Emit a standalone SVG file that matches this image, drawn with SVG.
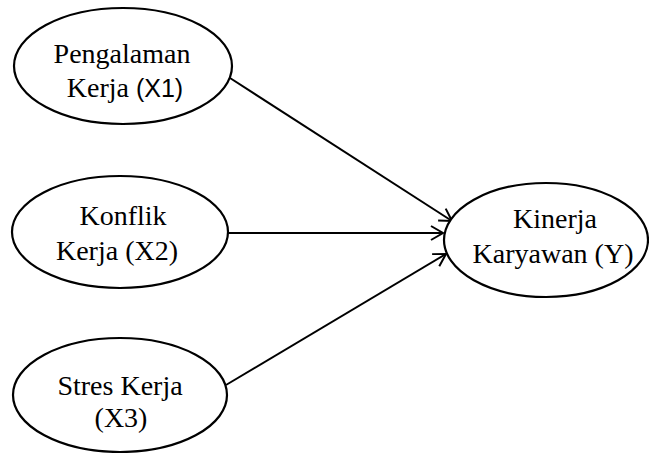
<svg xmlns="http://www.w3.org/2000/svg" width="649" height="453" viewBox="0 0 649 453">
<style>
.node ellipse{fill:#fff;stroke:#000;stroke-width:2.2}
.lbl{font-family:"Liberation Serif","Times New Roman",serif;font-size:28px;fill:#000;text-anchor:middle}
.sans{font-family:"Liberation Sans",Arial,sans-serif;font-size:25px}
.edge{stroke:#000;stroke-width:2;fill:none;marker-end:url(#arr)}
</style>
<defs>
<marker id="arr" markerUnits="userSpaceOnUse" markerWidth="16" markerHeight="16" refX="13" refY="8" orient="auto">
<path d="M1,1 L13,8 L1,15" fill="none" stroke="#000" stroke-width="2"/>
</marker>
</defs>
<g id="edges">
<line class="edge" x1="230" y1="78" x2="452" y2="221"/>
<line class="edge" x1="228" y1="233" x2="443" y2="233"/>
<line class="edge" x1="226" y1="385" x2="446" y2="254"/>
</g>
<g id="x1" class="node">
<ellipse cx="123" cy="66" rx="109" ry="58"/>
<text class="lbl" x="122" y="63">Pengalaman</text>
<text class="lbl" x="125" y="97">Kerja <tspan class="sans">(X1)</tspan></text>
</g>
<g id="x2" class="node">
<ellipse cx="120" cy="232" rx="108" ry="56"/>
<text class="lbl" x="123" y="225">Konflik</text>
<text class="lbl" x="117" y="260">Kerja (X2)</text>
</g>
<g id="x3" class="node">
<ellipse cx="120" cy="395" rx="107" ry="57"/>
<text class="lbl" x="120" y="395">Stres Kerja</text>
<text class="lbl" x="121" y="427">(X3)</text>
</g>
<g id="y" class="node">
<ellipse cx="546" cy="240" rx="102" ry="57"/>
<text class="lbl" x="555" y="228">Kinerja</text>
<text class="lbl" x="553" y="263">Karyawan (Y)</text>
</g>
</svg>
